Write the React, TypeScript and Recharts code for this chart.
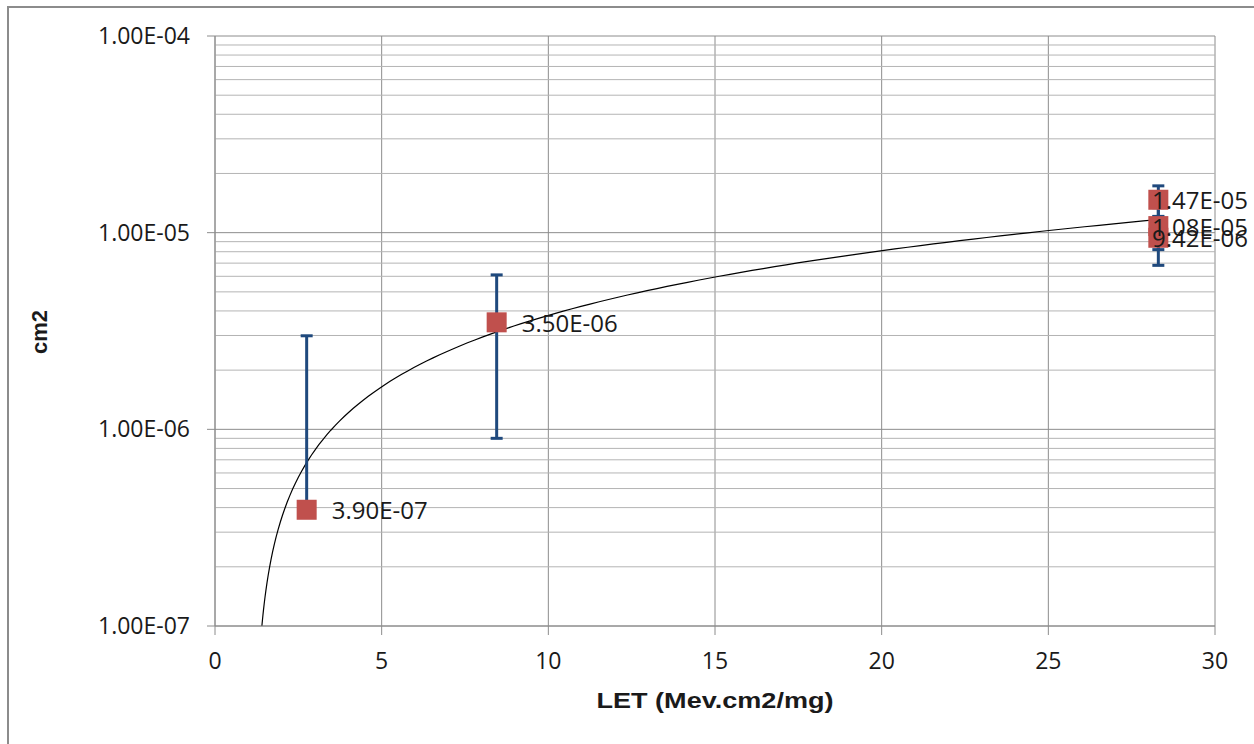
import React from 'react';
import {
  ComposedChart,
  Scatter,
  Line,
  XAxis,
  YAxis,
  CartesianGrid,
  ErrorBar,
  ReferenceLine,
  LabelList,
  Label,
} from 'recharts';

// ---- data ----
const letValues = [2.75, 8.45, 28.3, 28.3, 28.3];
const crossSections = [3.9e-7, 3.5e-6, 1.47e-5, 1.08e-5, 9.42e-6];
// fixed error of 2.6E-06; the lower part of the first bar falls below zero (not drawable on a log axis)
const errorLow = [0, 2.6e-6, 2.6e-6, 2.6e-6, 2.6e-6];
const errorHigh = [2.6e-6, 2.6e-6, 2.6e-6, 2.6e-6, 2.6e-6];

const xTicks = [0, 5, 10, 15, 20, 25, 30];
const yTicks = [1e-7, 1e-6, 1e-5, 1e-4];
const minorMultipliers = [2, 3, 4, 5, 6, 7, 8, 9];
const minorDecades = [1e-7, 1e-6, 1e-5];

const xTitle = 'LET (Mev.cm2/mg)';
const yTitle = 'cm2';

// ---- derived tables ----
const points = letValues.map((x, i) => ({
  x,
  y: crossSections[i],
  err: [errorLow[i], errorHigh[i]],
}));

// linear least-squares trendline (as the spreadsheet's "linear" trendline)
const n = letValues.length;
const meanX = letValues.reduce((a, b) => a + b, 0) / n;
const meanY = crossSections.reduce((a, b) => a + b, 0) / n;
let sxx = 0;
let sxy = 0;
letValues.forEach((x, i) => {
  sxx += (x - meanX) * (x - meanX);
  sxy += (x - meanX) * (crossSections[i] - meanY);
});
const slope = sxy / sxx;
const intercept = meanY - slope * meanX;
const xStart = (yTicks[0] - intercept) / slope;
const xEnd = Math.max(...letValues);
const trendData = Array.from({ length: 120 }, (_, k) => {
  const t = k / 119;
  const x = xStart + (xEnd - xStart) * t * t;
  return { x, y: Math.max(slope * x + intercept, yTicks[0]) };
});

const minorValues: number[] = [];
minorDecades.forEach((d) => minorMultipliers.forEach((m) => minorValues.push(d * m)));

const fmtExp = (v: number) => {
  const [mant, exp] = v.toExponential(2).split('e');
  const sign = exp[0] === '-' ? '-' : '+';
  const digits = exp.slice(1).padStart(2, '0');
  return `${mant}E${sign}${digits}`;
};

const FONT = '"Open Sans", "Noto Sans", sans-serif';
const TITLE_FONT = '"Liberation Sans", Arial, sans-serif';
const TEXT_COLOR = '#1a1a1a';

const XTick = (p: any) => (
  <text
    x={p.x}
    y={p.y + 32}
    textAnchor="middle"
    fontFamily={FONT}
    fontSize={23}
    fill={TEXT_COLOR}
  >
    {p.payload.value}
  </text>
);

const YTick = (p: any) => (
  <text
    x={p.x - 15}
    y={p.y + 8}
    textAnchor="end"
    fontFamily={FONT}
    fontSize={23}
    fill={TEXT_COLOR}
  >
    {fmtExp(p.payload.value)}
  </text>
);

const PointLabel = (p: any) => {
  const cx = p.x + p.width / 2;
  const cy = p.y + p.height / 2;
  const textW = 97;
  const lx = Math.min(cx + 25, 1249 - textW);
  return (
    <text
      x={lx}
      y={cy}
      dominantBaseline="central"
      textAnchor="start"
      fontFamily={FONT}
      fontSize={24}
      fill={TEXT_COLOR}
    >
      {fmtExp(p.value)}
    </text>
  );
};

const SquareMarker = (p: any) => (
  <rect x={p.cx - 10} y={p.cy - 10} width={20} height={20} fill="#C0504D" />
);

export default function App() {
  return (
    <div
      style={{
        position: 'absolute',
        left: 0,
        top: 0,
        width: 1254,
        height: 744,
        overflow: 'hidden',
        background: '#fff',
      }}
    >
      <div
        style={{
          position: 'absolute',
          left: 7,
          top: 6,
          width: 1300,
          height: 800,
          border: '2px solid #8c8c8c',
        }}
      />
      <div style={{ position: 'absolute', left: 0, top: 0 }}>
        <ComposedChart
          width={1254}
          height={744}
          margin={{ top: 36, right: 39, bottom: 38, left: 0 }}
        >
          <CartesianGrid stroke="#8c8c8c" strokeWidth={1} />
          {minorValues.map((v) => (
            <ReferenceLine key={v} y={v} stroke="#b4b4b4" strokeWidth={1} />
          ))}
          <XAxis
            type="number"
            dataKey="x"
            domain={[0, 30]}
            ticks={xTicks}
            allowDataOverflow
            height={80}
            tickSize={9}
            tick={XTick}
            stroke="#8c8c8c"
            axisLine={{ stroke: '#8c8c8c' }}
            tickLine={{ stroke: '#8c8c8c' }}
          >
            <Label
              content={() => (
                <text
                  x={715}
                  y={708}
                  textAnchor="middle"
                  fontFamily={TITLE_FONT}
                  fontWeight="bold"
                  fontSize={22}
                  textLength={237}
                  lengthAdjust="spacingAndGlyphs"
                  fill={TEXT_COLOR}
                >
                  {xTitle}
                </text>
              )}
            />
          </XAxis>
          <YAxis
            type="number"
            dataKey="y"
            scale="log"
            domain={[1e-7, 1e-4]}
            ticks={yTicks}
            allowDataOverflow
            width={215}
            tickSize={8}
            tick={YTick}
            axisLine={{ stroke: '#8c8c8c' }}
            tickLine={{ stroke: '#8c8c8c' }}
          >
            <Label
              content={() => (
                <text
                  x={47}
                  y={332}
                  transform="rotate(-90 47 332)"
                  textAnchor="middle"
                  fontFamily={TITLE_FONT}
                  fontWeight="bold"
                  fontSize={22}
                  fill={TEXT_COLOR}
                >
                  {yTitle}
                </text>
              )}
            />
          </YAxis>
          <Line
            data={trendData}
            dataKey="y"
            type="linear"
            dot={false}
            activeDot={false}
            stroke="#000"
            strokeWidth={1.2}
            isAnimationActive={false}
          />
          <Scatter
            data={points}
            dataKey="y"
            shape={SquareMarker}
            isAnimationActive={false}
          >
            <ErrorBar
              dataKey="err"
              direction="y"
              width={6}
              stroke="#1F497D"
              strokeWidth={3}
              isAnimationActive={false}
            />
            <LabelList dataKey="y" content={PointLabel} />
          </Scatter>
        </ComposedChart>
      </div>
    </div>
  );
}
